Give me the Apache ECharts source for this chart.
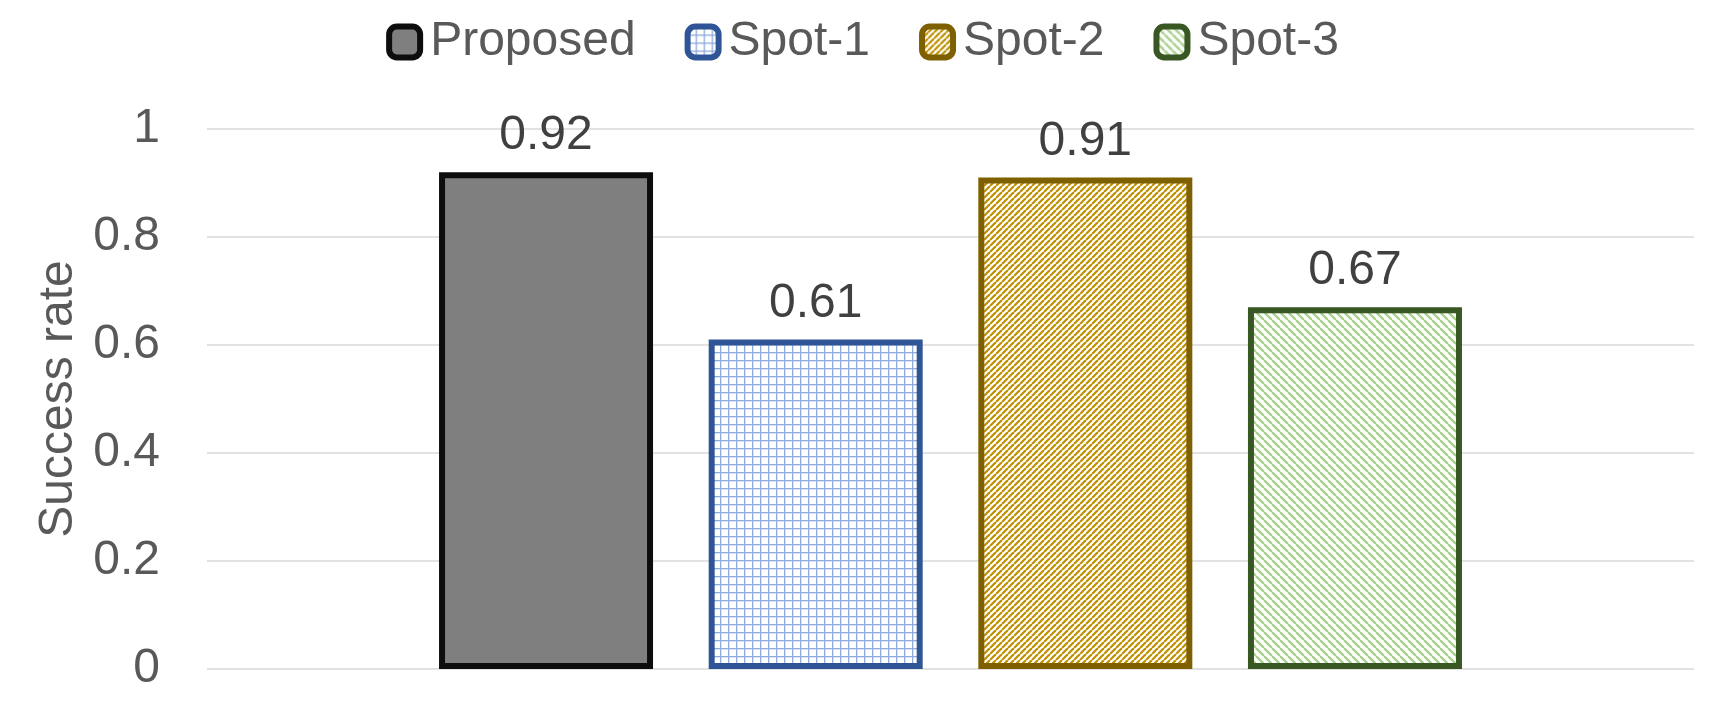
<!DOCTYPE html>
<html>
<head>
<meta charset="utf-8">
<script src="https://cdn.jsdelivr.net/npm/echarts@6/dist/echarts.min.js"></script>
<style>
  html, body { margin: 0; padding: 0; background: #fff; }
  #main { width: 1725px; height: 714px; }
</style>
</head>
<body>
<div id="main"></div>
<script>
var categories = ['Success'];
var seriesNames = ['Proposed', 'Spot-1', 'Spot-2', 'Spot-3'];
var proposedValues = [0.92];
var spot1Values = [0.61];
var spot2Values = [0.91];
var spot3Values = [0.67];
var yTicks = [0, 0.2, 0.4, 0.6, 0.8, 1];

// small canvas tiles for the hatch fills
function gridPattern(lineColor, size) {
    var c = document.createElement('canvas');
    c.width = size; c.height = size;
    var ctx = c.getContext('2d');
    ctx.fillStyle = '#fff';
    ctx.fillRect(0, 0, size, size);
    ctx.fillStyle = lineColor;
    ctx.fillRect(0, 0, size, 1.3);
    ctx.fillRect(0, 0, 1.3, size);
    return c;
}

function stripePattern(lineColor, size, width, dir) {
    var c = document.createElement('canvas');
    c.width = size; c.height = size;
    var ctx = c.getContext('2d');
    ctx.fillStyle = '#fff';
    ctx.fillRect(0, 0, size, size);
    ctx.strokeStyle = lineColor;
    ctx.lineWidth = width;
    for (var k = -1; k <= 1; k++) {
        ctx.beginPath();
        if (dir === '/') {
            ctx.moveTo(k * size, size);
            ctx.lineTo(k * size + size, 0);
        } else {
            ctx.moveTo(k * size, 0);
            ctx.lineTo(k * size + size, size);
        }
        ctx.stroke();
    }
    return c;
}

var fills = [
    '#7f7f7f',
    {image: gridPattern('#8faadc', 8), repeat: 'repeat'},
    {image: stripePattern('#bf9000', 6, 2.2, '/'), repeat: 'repeat'},
    {image: stripePattern('#a9d18e', 8, 2.4, '\\'), repeat: 'repeat'}
];
var borders = ['#0d0d0d', '#2f5597', '#7f6000', '#385723'];
var values = [proposedValues, spot1Values, spot2Values, spot3Values];

var font = 'Liberation Sans, Arial, sans-serif';
var textColor = '#595959';
var fontSize = 48;

var myChart = echarts.init(document.getElementById('main'));

var series = seriesNames.map(function (name, i) {
    return {
        name: name,
        type: 'bar',
        data: values[i],
        barWidth: 214,
        barGap: '26%',
        itemStyle: {
            color: fills[i],
            borderColor: borders[i],
            borderWidth: 6
        },
        label: {
            show: true,
            position: 'top',
            distance: 12,
            color: '#404040',
            fontFamily: font,
            fontSize: fontSize,
            formatter: function (p) { return p.value.toFixed(2); }
        }
    };
});

myChart.setOption({
    animation: false,
    textStyle: { fontFamily: font },
    legend: {
        top: 13,
        left: 'center',
        itemWidth: 31,
        itemHeight: 31,
        itemGap: 49,
        itemStyle: { borderWidth: 6 },
        textStyle: {
            color: textColor,
            fontFamily: font,
            fontSize: fontSize,
            padding: [0, 0, 0, 5]
        },
        data: seriesNames
    },
    grid: {
        left: 207,
        right: 31,
        top: 129,
        bottom: 45
    },
    xAxis: {
        type: 'category',
        data: categories,
        axisLine: { show: false },
        axisTick: { show: false },
        axisLabel: { show: false }
    },
    yAxis: {
        type: 'value',
        min: yTicks[0],
        max: yTicks[yTicks.length - 1],
        interval: 0.2,
        name: 'Success rate',
        nameLocation: 'middle',
        nameGap: 110,
        nameTextStyle: { color: textColor, fontFamily: font, fontSize: fontSize },
        axisLine: { show: false },
        axisTick: { show: false },
        axisLabel: {
            color: textColor,
            fontFamily: font,
            fontSize: fontSize,
            margin: 47,
            formatter: function (v) { return String(Math.round(v * 10) / 10); }
        },
        splitLine: { lineStyle: { color: '#d9d9d9', width: 1.5 } }
    },
    series: series
});
</script>
</body>
</html>
